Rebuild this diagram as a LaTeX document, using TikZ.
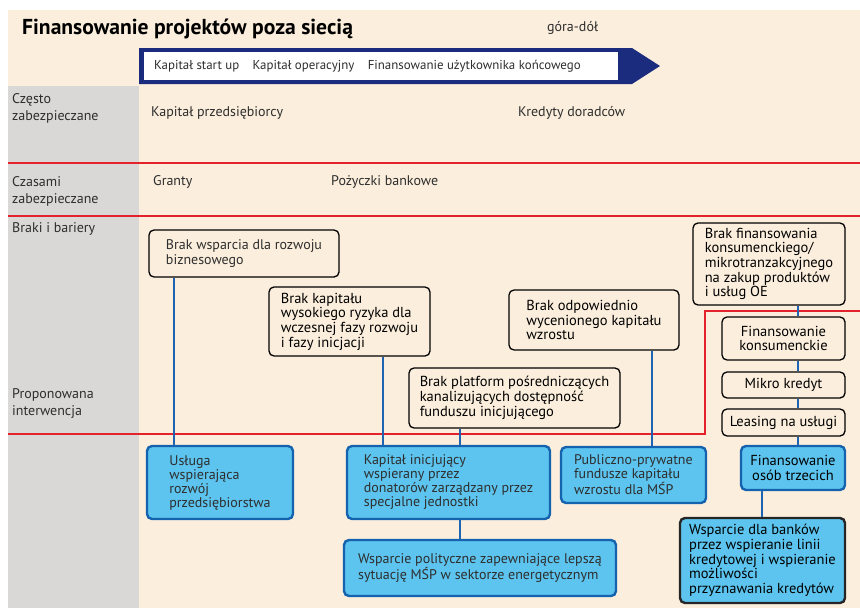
\documentclass[tikz,border=0pt]{standalone}
\usepackage{fontspec}
\setmainfont{PT Sans}
\usepackage{tikz}
\usetikzlibrary{positioning}
\definecolor{cream}{HTML}{FBEEDC}
\definecolor{panelgray}{HTML}{D9D8D7}
\definecolor{navy}{HTML}{1B2C7E}
\definecolor{actfill}{HTML}{5CC4EE}
\definecolor{actborder}{HTML}{1563AE}
\definecolor{linkblue}{HTML}{1F64B2}
\definecolor{barred}{HTML}{E3222B}
\definecolor{lighttext}{HTML}{2E2E2E}

\begin{document}
\begin{tikzpicture}[
        x=1pt, y=-1pt,
        rowlabel/.style={anchor=west, inner sep=0pt, align=left, font=\fontsize{14}{17}\selectfont, text=lighttext},
        plain/.style={anchor=west, inner sep=0pt, font=\fontsize{14}{14.5}\selectfont, text=lighttext},
        phase/.style={plain, font=\fontsize{12.9}{14}\selectfont},
        gapbox/.style={draw=black, line width=1.3pt, rounded corners=5pt, fill=cream, align=left, inner sep=2pt, font=\fontsize{14.5}{14.7}\selectfont},
        lightgap/.style={gapbox, font=\fontsize{14}{14.5}\selectfont, text=lighttext},
        actbox/.style={draw=actborder, line width=2.4pt, rounded corners=5pt, fill=actfill, align=left, inner sep=2pt, font=\fontsize{14}{14}\selectfont, text=lighttext},
        link/.style={draw=linkblue, line width=2.6pt},
        barrier/.style={draw=barred, line width=1.6pt}
    ]
    \useasboundingbox (0,0) rectangle (860,608);
    \fill[white] (0,0) rectangle (860,608);
    \fill[cream] (8,10) rectangle (860,608);
    \fill[panelgray] (8,86) rectangle (139,608);
    % row separators
    \draw[barrier] (8,163) -- (860,163);
    \draw[barrier] (8,216) -- (860,216);
    \draw[barrier] (8,434) -- (705,434) -- (705,311) -- (860,311);
    % header
    \node[anchor=west, inner sep=0pt, font=\fontsize{21.6}{23}\selectfont\bfseries] (title) at (22,29) {Finansowanie projektów poza siecią};
    \node[plain] (topdown) at (547,28) {góra-dół};
    \fill[navy] (139,48) -- (632,48) -- (660,66) -- (632,84) -- (139,84) -- cycle;
    \fill[white] (144,52) rectangle (618,80);
    \node[phase] (ph1) at (154,66) {Kapitał start up};
    \node[phase, right=13pt of ph1] (ph2) {Kapitał operacyjny};
    \node[phase, right=13pt of ph2] (ph3) {Finansowanie użytkownika końcowego};
    % row labels
    \node[rowlabel] (often) at (12,108) {Często\\zabezpieczane};
    \node[rowlabel] (sometimes) at (12,191) {Czasami\\zabezpieczane};
    \node[rowlabel] (gaps) at (12,229) {Braki i bariery};
    \node[rowlabel] (proposed) at (12,404) {Proponowana\\interwencja};
    \node[plain] (ownercap) at (151,113) {Kapitał przedsiębiorcy};
    \node[plain] (advisors) at (518,113) {Kredyty doradców};
    \node[plain] (grants) at (153,182) {Granty};
    \node[plain] (bankloans) at (331,182) {Pożyczki bankowe};
    % gaps and barriers
    \node[lightgap, minimum width=190, minimum height=47] (bw) at (244,253.5) {Brak wsparcia dla rozwoju\\biznesowego};
    \node[gapbox, minimum width=161, minimum height=69] (bk) at (349.5,321.5) {Brak kapitału\\wysokiego ryzyka dla\\wczesnej fazy rozwoju\\i fazy inicjacji};
    \node[gapbox, minimum width=211, minimum height=60] (bp) at (514.5,398) {Brak platform pośredniczących\\kanalizujących dostępność\\funduszu inicjującego};
    \node[gapbox, minimum width=170, minimum height=60] (bo) at (594,320) {Brak odpowiednio\\wycenionego kapitału\\wzrostu};
    \node[gapbox, minimum width=152, minimum height=82] (bf) at (769,264) {Brak finansowania\\konsumenckiego/\\mikrotranzakcyjnego\\na zakup produktów\\i usług OE};
    \node[gapbox, align=center, minimum width=123, minimum height=43] (fk) at (783.5,338.5) {Finansowanie\\konsumenckie};
    \node[gapbox, align=center, minimum width=123, minimum height=26] (mk) at (783.5,385) {Mikro kredyt};
    \node[gapbox, align=center, minimum width=123, minimum height=27] (ls) at (783.5,422.5) {Leasing na usługi};
    % interventions
    \node[actbox, minimum width=146, minimum height=73] (us) at (220,482.5) {Usługa\\wspierająca\\rozwój\\przedsiębiorstwa};
    \node[actbox, minimum width=203, minimum height=73] (ki) at (448.5,482.5) {Kapitał inicjujący\\wspierany przez\\donatorów zarządzany przez\\specjalne jednostki};
    \node[actbox, minimum width=272, minimum height=56] (wp) at (480,568) {Wsparcie polityczne zapewniające lepszą\\sytuację MŚP w sektorze energetycznym};
    \node[actbox, minimum width=145, minimum height=56] (pp) at (633.5,475) {Publiczno-prywatne\\fundusze kapitału\\wzrostu dla MŚP};
    \node[actbox, align=center, text=black, font=\fontsize{14.5}{14.7}\selectfont, minimum width=104, minimum height=44] (fo) at (793,468) {Finansowanie\\osób trzecich};
    \node[actbox, draw=black!85, text=black, font=\fontsize{14.5}{14.7}\selectfont, minimum width=165, minimum height=85] (wb) at (762.5,560.5) {Wsparcie dla banków\\przez wspieranie linii\\kredytowej i wspieranie\\możliwości\\przyznawania kredytów};
    % connectors
    \draw[link] ([xshift=-70pt]bw.south) -- ([xshift=-46pt]us.north);
    \draw[link] ([xshift=33.5pt]bk.south) -- ([xshift=-65.5pt]ki.north);
    \draw[link] ([xshift=-54.5pt]bp.south) -- ([xshift=11.5pt]ki.north);
    \draw[link] ([xshift=11.5pt]ki.south) -- ([xshift=-20pt]wp.north);
    \draw[link] ([xshift=58pt]bo.south) -- ([xshift=18.5pt]pp.north);
    \draw[link] ([xshift=29pt]bf.south) -- ([xshift=14.5pt]fk.north);
    \draw[link] ([xshift=14.5pt]fk.south) -- ([xshift=14.5pt]mk.north);
    \draw[link] ([xshift=14.5pt]mk.south) -- ([xshift=14.5pt]ls.north);
    \draw[link] ([xshift=14.5pt]ls.south) -- ([xshift=5pt]fo.north);
    \draw[link] ([xshift=-31pt]fo.south) -- ([xshift=-0.5pt]wb.north);
\end{tikzpicture}
\end{document}
